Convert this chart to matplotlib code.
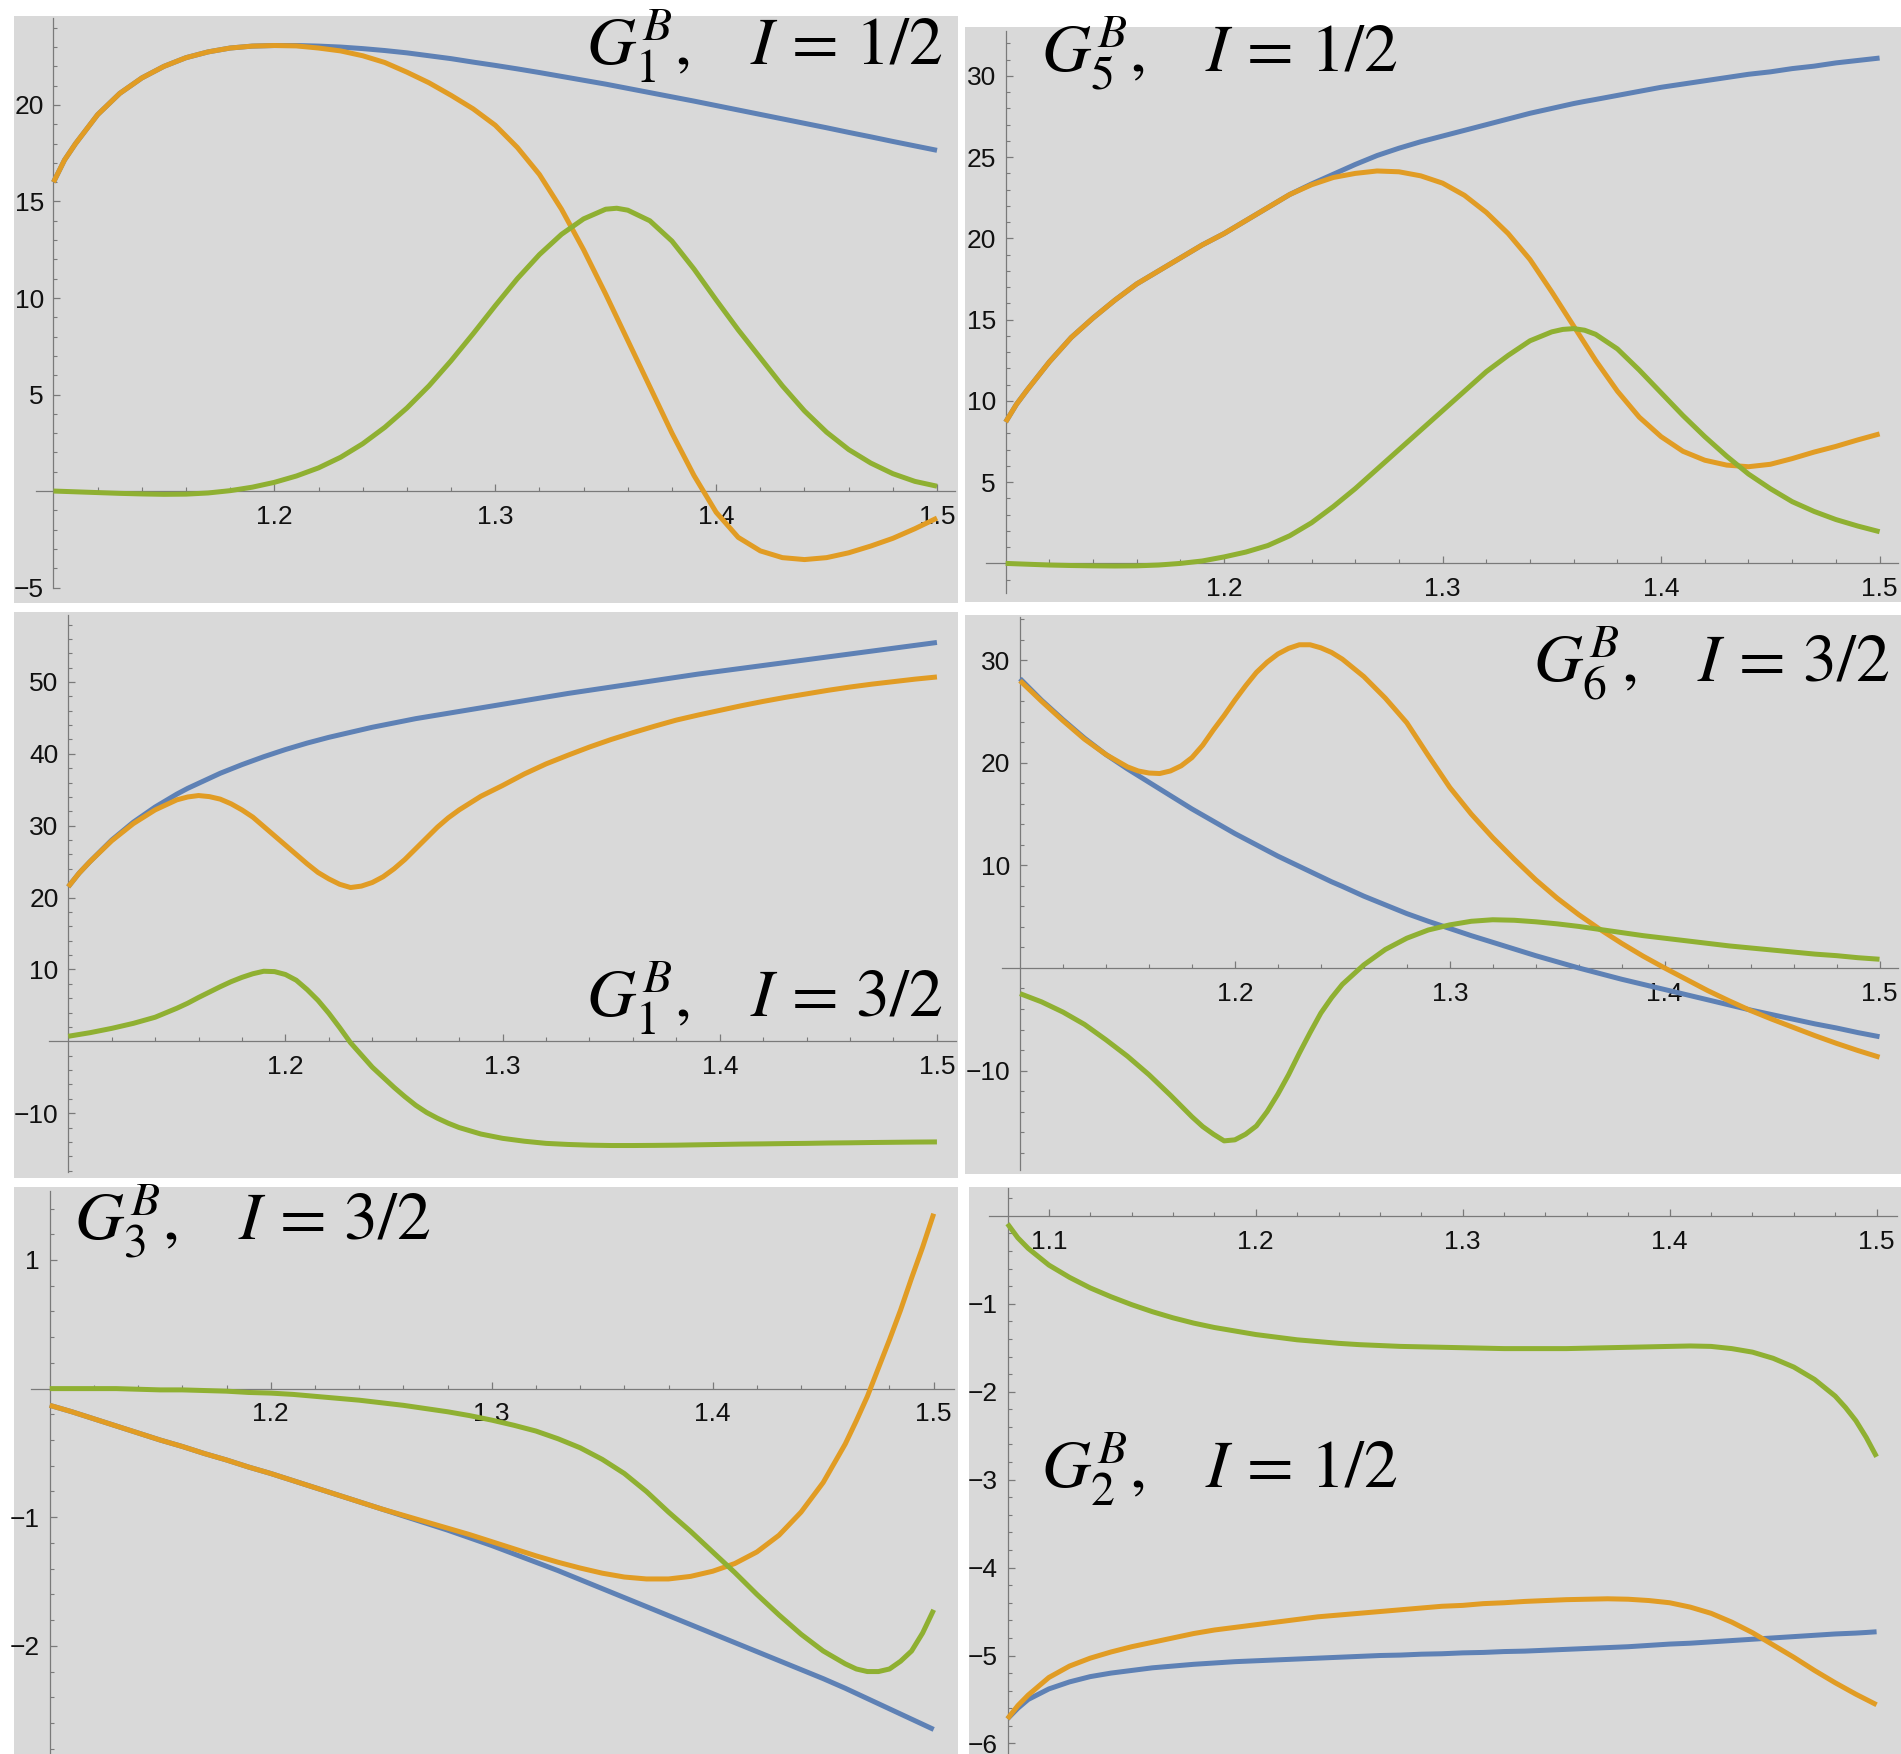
import numpy as np
import matplotlib
matplotlib.use("Agg")
import matplotlib.pyplot as plt

W, H, DPI = 1901, 1754, 100

BLUE = "#5E81B5"
ORANGE = "#E19C24"
GREEN = "#8FB032"
BG = "#d9d9d9"
AXIS = "#7a7a7a"

plt.rcParams["mathtext.fontset"] = "stix"

# energy grids (GeV)
x_main = np.round(np.linspace(1.10, 1.50, 41), 3)
x_g2 = np.round(np.linspace(1.08, 1.50, 43), 3)

# G1^B, I = 1/2
g1_i12_blue = [16.0, 18.0, 19.5, 20.6, 21.4, 22.0, 22.45, 22.75, 22.95, 23.05,
               23.08, 23.08, 23.05, 23.0, 22.92, 22.82, 22.7, 22.55, 22.4, 22.22,
               22.05, 21.87, 21.68, 21.48, 21.28, 21.08, 20.86, 20.64, 20.42, 20.2,
               19.97, 19.74, 19.51, 19.28, 19.05, 18.82, 18.58, 18.35, 18.11, 17.88,
               17.65]
g1_i12_orange = [16.0, 18.0, 19.5, 20.6, 21.4, 22.0, 22.45, 22.75, 22.95, 23.05,
                 23.08, 23.06, 22.95, 22.8, 22.55, 22.2, 21.7, 21.15, 20.5, 19.8,
                 18.95, 17.8, 16.4, 14.6, 12.5, 10.2, 7.8, 5.4, 3.0, 0.8,
                 -1.1, -2.4, -3.1, -3.45, -3.55, -3.45, -3.2, -2.85, -2.45, -1.95,
                 -1.4]
g1_i12_green = [0.0, -0.04, -0.08, -0.12, -0.15, -0.17, -0.16, -0.1, 0.02, 0.2,
                0.45, 0.78, 1.2, 1.75, 2.45, 3.3, 4.3, 5.45, 6.75, 8.15,
                9.6, 11.0, 12.25, 13.3, 14.1, 14.6, 14.55, 14.0, 12.95, 11.5,
                9.9, 8.35, 6.9, 5.45, 4.15, 3.05, 2.15, 1.45, 0.9, 0.5,
                0.25]
g1_i12_xx = [1.105, 1.355]
g1_i12_blue_xx = [17.15, 20.97]
g1_i12_orange_xx = [17.15, 9.0]
g1_i12_green_xx = [-0.02, 14.65]

# G5^B, I = 1/2
g5_i12_blue = [8.7, 10.7, 12.4, 13.9, 15.1, 16.2, 17.2, 18.0, 18.8, 19.6,
               20.3, 21.1, 21.9, 22.7, 23.35, 23.95, 24.55, 25.1, 25.55, 25.95,
               26.3, 26.65, 27.0, 27.35, 27.7, 28.0, 28.3, 28.55, 28.8, 29.05,
               29.3, 29.5, 29.7, 29.9, 30.1, 30.25, 30.45, 30.6, 30.8, 30.95,
               31.1]
g5_i12_orange = [8.7, 10.7, 12.4, 13.9, 15.1, 16.2, 17.2, 18.0, 18.8, 19.6,
                 20.3, 21.1, 21.9, 22.7, 23.3, 23.75, 24.0, 24.15, 24.1, 23.85,
                 23.4, 22.65, 21.6, 20.3, 18.7, 16.7, 14.6, 12.5, 10.6, 9.0,
                 7.8, 6.9, 6.35, 6.05, 5.95, 6.1, 6.45, 6.85, 7.2, 7.6,
                 7.97]
g5_i12_green = [0.0, -0.05, -0.1, -0.13, -0.15, -0.16, -0.15, -0.1, 0.0, 0.15,
                0.4, 0.7, 1.1, 1.7, 2.5, 3.5, 4.6, 5.8, 7.0, 8.2,
                9.4, 10.6, 11.8, 12.8, 13.7, 14.25, 14.45, 14.1, 13.2, 11.9,
                10.5, 9.1, 7.8, 6.6, 5.5, 4.6, 3.8, 3.2, 2.7, 2.3,
                1.95]
g5_i12_xx = [1.105, 1.355, 1.365]
g5_i12_blue_xx = [9.8, 28.15, 28.43]
g5_i12_orange_xx = [9.8, 15.65, 13.55]
g5_i12_green_xx = [-0.025, 14.4, 14.35]

# G1^B, I = 3/2
g1_i32_blue = [21.5, 25.0, 28.0, 30.5, 32.6, 34.4, 35.9, 37.3, 38.5, 39.6,
               40.6, 41.5, 42.3, 43.0, 43.7, 44.3, 44.9, 45.4, 45.9, 46.4,
               46.9, 47.4, 47.9, 48.4, 48.85, 49.3, 49.75, 50.2, 50.65, 51.1,
               51.5, 51.9, 52.3, 52.7, 53.1, 53.5, 53.9, 54.3, 54.7, 55.1,
               55.5]
g1_i32_orange = [21.5, 25.0, 27.9, 30.3, 32.2, 33.6, 34.2, 33.7, 32.2, 29.9,
                 27.3, 24.7, 22.6, 21.4, 22.1, 24.0, 26.8, 29.8, 32.2, 34.1,
                 35.6, 37.2, 38.6, 39.8, 40.95, 42.0, 42.95, 43.85, 44.7, 45.4,
                 46.05, 46.7, 47.3, 47.85, 48.35, 48.85, 49.3, 49.7, 50.05, 50.4,
                 50.7]
g1_i32_green = [0.7, 1.2, 1.8, 2.5, 3.35, 4.6, 6.1, 7.6, 8.9, 9.75,
                9.3, 7.2, 3.9, -0.2, -3.6, -6.4, -8.9, -10.7, -12.0, -12.9,
                -13.5, -13.9, -14.2, -14.35, -14.45, -14.5, -14.5, -14.48, -14.45, -14.4,
                -14.35, -14.3, -14.27, -14.23, -14.2, -14.15, -14.12, -14.08, -14.05, -14.02,
                -14.0]
g1_i32_xx = [1.105, 1.155, 1.165, 1.175, 1.185, 1.195, 1.205, 1.215, 1.225, 1.235,
             1.245, 1.255, 1.265, 1.275]
g1_i32_blue_xx = [23.4, 35.2, 36.6, 37.9, 39.05, 40.1, 41.05, 41.9, 42.65, 43.35,
                  44.0, 44.6, 45.15, 45.65]
g1_i32_orange_xx = [23.4, 34.0, 34.05, 33.05, 31.2, 28.6, 26.0, 23.5, 21.85, 21.6,
                    22.9, 25.3, 28.3, 31.1]
g1_i32_green_xx = [0.95, 5.3, 6.85, 8.3, 9.4, 9.7, 8.5, 5.7, 1.9, -1.9,
                   -5.0, -7.7, -9.9, -11.4]

# G6^B, I = 3/2
g6_i32_blue = [28.2, 26.1, 24.2, 22.4, 20.8, 19.4, 18.1, 16.8, 15.5, 14.3,
               13.1, 12.0, 10.9, 9.9, 8.9, 7.95, 7.0, 6.15, 5.3, 4.55,
               3.85, 3.15, 2.5, 1.85, 1.2, 0.6, 0.0, -0.55, -1.1, -1.6,
               -2.1, -2.6, -3.1, -3.6, -4.1, -4.55, -5.0, -5.45, -5.85, -6.3,
               -6.7]
g6_i32_orange = [28.0, 26.0, 24.1, 22.3, 20.8, 19.6, 19.0, 19.2, 20.5, 23.2,
                 26.1, 28.8, 30.6, 31.5, 31.2, 30.1, 28.4, 26.3, 23.9, 20.7,
                 17.6, 15.0, 12.7, 10.6, 8.6, 6.8, 5.2, 3.75, 2.4, 1.15,
                 0.0, -1.1, -2.2, -3.2, -4.15, -5.0, -5.8, -6.6, -7.35, -8.05,
                 -8.7]
g6_i32_green = [-2.5, -3.3, -4.3, -5.5, -7.0, -8.6, -10.4, -12.4, -14.5, -16.2,
                -16.75, -15.4, -12.3, -8.3, -4.4, -1.6, 0.3, 1.8, 2.9, 3.7,
                4.2, 4.55, 4.7, 4.65, 4.5, 4.3, 4.05, 3.75, 3.45, 3.15,
                2.9, 2.65, 2.4, 2.15, 1.95, 1.75, 1.55, 1.35, 1.2, 1.0,
                0.85]
g6_i32_xx = [1.155, 1.165, 1.175, 1.185, 1.195, 1.205, 1.215, 1.225, 1.235, 1.245]
g6_i32_blue_xx = [18.75, 17.45, 16.15, 14.9, 13.7, 12.55, 11.45, 10.4, 9.4, 8.4]
g6_i32_orange_xx = [19.2, 18.95, 19.7, 21.7, 24.6, 27.5, 29.8, 31.15, 31.5, 30.75]
g6_i32_green_xx = [-9.5, -11.4, -13.45, -15.45, -16.85, -16.2, -14.0, -10.4, -6.3, -2.9]

# G3^B, I = 3/2
g3_i32_blue = [-0.13, -0.18, -0.235, -0.29, -0.345, -0.4, -0.45, -0.505, -0.555, -0.61,
               -0.66, -0.715, -0.77, -0.825, -0.88, -0.935, -0.99, -1.045, -1.1, -1.16,
               -1.22, -1.285, -1.35, -1.415, -1.485, -1.555, -1.625, -1.695, -1.765, -1.835,
               -1.905, -1.975, -2.045, -2.115, -2.185, -2.255, -2.33, -2.41, -2.49, -2.57,
               -2.65]
g3_i32_orange = [-0.13, -0.18, -0.235, -0.29, -0.345, -0.4, -0.45, -0.505, -0.555, -0.61,
                 -0.66, -0.715, -0.77, -0.825, -0.88, -0.935, -0.985, -1.035, -1.085, -1.135,
                 -1.19, -1.245, -1.3, -1.35, -1.395, -1.435, -1.465, -1.48, -1.48, -1.46,
                 -1.42, -1.36, -1.27, -1.14, -0.96, -0.73, -0.43, -0.06, 0.38, 0.86,
                 1.36]
g3_i32_green = [0.0, 0.0, 0.0, 0.0, -0.005, -0.01, -0.01, -0.015, -0.02, -0.03,
                -0.035, -0.045, -0.06, -0.075, -0.09, -0.11, -0.13, -0.155, -0.18, -0.21,
                -0.245, -0.285, -0.33, -0.39, -0.46, -0.55, -0.66, -0.8, -0.96, -1.11,
                -1.27, -1.43, -1.6, -1.76, -1.91, -2.04, -2.14, -2.2, -2.18, -2.04,
                -1.72]
g3_i32_xx = [1.465, 1.475, 1.485, 1.495]
g3_i32_blue_xx = [-2.37, -2.45, -2.53, -2.61]
g3_i32_orange_xx = [-0.25, 0.16, 0.61, 1.1]
g3_i32_green_xx = [-2.18, -2.2, -2.12, -1.9]

# G2^B, I = 1/2 (starts at threshold)
g2_i12_blue = [-5.72, -5.5, -5.38, -5.3, -5.24, -5.2, -5.17, -5.14, -5.12, -5.1,
               -5.085, -5.07, -5.06, -5.05, -5.04, -5.03, -5.02, -5.01, -5.0, -4.995,
               -4.985, -4.98, -4.97, -4.965, -4.955, -4.95, -4.94, -4.93, -4.92, -4.91,
               -4.9, -4.885, -4.87, -4.86, -4.845, -4.83, -4.815, -4.8, -4.785, -4.77,
               -4.755, -4.745, -4.73]
g2_i12_orange = [-5.72, -5.45, -5.25, -5.12, -5.03, -4.96, -4.9, -4.85, -4.8, -4.75,
                 -4.71, -4.68, -4.65, -4.62, -4.59, -4.56, -4.54, -4.52, -4.5, -4.48,
                 -4.46, -4.44, -4.43, -4.41, -4.4, -4.385, -4.375, -4.365, -4.36, -4.355,
                 -4.36, -4.375, -4.4, -4.45, -4.52, -4.62, -4.74, -4.88, -5.02, -5.17,
                 -5.31, -5.44, -5.56]
g2_i12_green = [-0.09, -0.37, -0.56, -0.7, -0.82, -0.92, -1.01, -1.09, -1.16, -1.22,
                -1.27, -1.31, -1.35, -1.38, -1.41, -1.43, -1.45, -1.465, -1.475, -1.485,
                -1.49, -1.495, -1.5, -1.505, -1.51, -1.51, -1.51, -1.51, -1.505, -1.5,
                -1.495, -1.49, -1.485, -1.48, -1.485, -1.51, -1.55, -1.62, -1.72, -1.86,
                -2.05, -2.33, -2.74]
g2_i12_xx = [1.085, 1.485, 1.495]
g2_i12_blue_xx = [-5.6, -4.75, -4.738]
g2_i12_orange_xx = [-5.57, -5.375, -5.5]
g2_i12_green_xx = [-0.25, -2.18, -2.52]

titles = [r"$G_1^B,\quad I\,=\,1/2$", r"$G_5^B,\quad I\,=\,1/2$", r"$G_1^B,\quad I\,=\,3/2$",
          r"$G_6^B,\quad I\,=\,3/2$", r"$G_3^B,\quad I\,=\,3/2$", r"$G_2^B,\quad I\,=\,1/2$"]

# layout of each panel in pixels: gray box (left, top, right, bottom),
# view limits, axis origin, axis extents, ticks and title anchor
panels = [
    dict(box=(13.5, 15.6, 958, 603), xlim=(1.0819, 1.5095), ylim=(-5.80, 24.63),
         x0=1.1, xspan=(1.092, 1.508), yspan=(-5.0, 24.5),
         ymaj=[-5, 5, 10, 15, 20], ymin=(-5, 24.5, 1), xmaj=[1.2, 1.3, 1.4, 1.5],
         title=(943, 65, "right"),
         x=(x_main, g1_i12_xx),
         ys=((g1_i12_blue, g1_i12_blue_xx), (g1_i12_orange, g1_i12_orange_xx),
             (g1_i12_green, g1_i12_green_xx))),
    dict(box=(965, 27, 1901, 602), xlim=(1.0814, 1.5098), ylim=(-2.375, 33.01),
         x0=1.1, xspan=(1.091, 1.5085), yspan=(-1.85, 32.76),
         ymaj=[5, 10, 15, 20, 25, 30], ymin=(-1, 32.5, 1), xmaj=[1.2, 1.3, 1.4, 1.5],
         title=(1041, 72, "left"),
         x=(x_main, g5_i12_xx),
         ys=((g5_i12_blue, g5_i12_blue_xx), (g5_i12_orange, g5_i12_orange_xx),
             (g5_i12_green, g5_i12_green_xx))),
    dict(box=(13.5, 612, 958, 1177.5), xlim=(1.0748, 1.5097), ylim=(-18.95, 59.74),
         x0=1.1, xspan=(1.0912, 1.509), yspan=(-18.2, 59.3),
         ymaj=[-10, 10, 20, 30, 40, 50], ymin=(-18, 59, 2), xmaj=[1.2, 1.3, 1.4, 1.5],
         title=(943, 1017, "right"),
         x=(x_main, g1_i32_xx),
         ys=((g1_i32_blue, g1_i32_blue_xx), (g1_i32_orange, g1_i32_orange_xx),
             (g1_i32_green, g1_i32_green_xx))),
    dict(box=(965, 615, 1901, 1173.7), xlim=(1.0744, 1.51), ylim=(-20.05, 34.4),
         x0=1.1, xspan=(1.0914, 1.5086), yspan=(-19.7, 34.2),
         ymaj=[-10, 10, 20, 30], ymin=(-18, 34.1, 2), xmaj=[1.2, 1.3, 1.4, 1.5],
         title=(1890, 681, "right"),
         x=(x_main, g6_i32_xx),
         ys=((g6_i32_blue, g6_i32_blue_xx), (g6_i32_orange, g6_i32_orange_xx),
             (g6_i32_green, g6_i32_green_xx))),
    dict(box=(13.5, 1186.8, 958, 1754), xlim=(1.0836, 1.511), ylim=(-2.841, 1.569),
         x0=1.1, xspan=(1.0914, 1.5092), yspan=(-2.841, 1.54),
         ymaj=[-2, -1, 1], ymin=(-2.8, 1.5, 0.2), xmaj=[1.2, 1.3, 1.4, 1.5],
         title=(73.5, 1239, "left"),
         x=(x_main, g3_i32_xx),
         ys=((g3_i32_blue, g3_i32_blue_xx), (g3_i32_orange, g3_i32_orange_xx),
             (g3_i32_green, g3_i32_green_xx))),
    dict(box=(969.4, 1186.8, 1901, 1754), xlim=(1.0616, 1.5118), ylim=(-6.12, 0.33),
         x0=1.0801, xspan=(1.0713, 1.5101), yspan=(-6.12, 0.316),
         ymaj=[-6, -5, -4, -3, -2, -1], ymin=(-6, 0.3, 0.2), xmaj=[1.1, 1.2, 1.3, 1.4, 1.5],
         title=(1041, 1488, "left"),
         x=(x_g2, g2_i12_xx),
         ys=((g2_i12_blue, g2_i12_blue_xx), (g2_i12_orange, g2_i12_orange_xx),
             (g2_i12_green, g2_i12_green_xx))),
]


def fmt_num(v):
    s = f"{v:g}"
    return s.replace("-", "\u2212")


def draw_panel(fig, p, title):
    l, t, r, b = p["box"]
    ax = fig.add_axes([l / W, 1 - b / H, (r - l) / W, (b - t) / H])
    ax.set_facecolor(BG)

    # base grid plus the extra samples taken around sharp features
    xs = np.concatenate([p["x"][0], p["x"][1]])
    order = np.argsort(xs)
    for (base, extra), c in zip(p["ys"], (BLUE, ORANGE, GREEN)):
        yv = np.concatenate([base, extra])
        ax.plot(xs[order], yv[order], color=c, lw=3.6, solid_joinstyle="round",
                solid_capstyle="butt", zorder=3)
    ax.set_xlim(*p["xlim"])
    ax.set_ylim(*p["ylim"])

    for s in ("top", "right"):
        ax.spines[s].set_visible(False)
    ax.spines["left"].set_position(("data", p["x0"]))
    ax.spines["bottom"].set_position(("data", 0))
    ax.spines["left"].set_bounds(*p["yspan"])
    ax.spines["bottom"].set_bounds(*p["xspan"])
    for s in ("left", "bottom"):
        ax.spines[s].set_color(AXIS)
        ax.spines[s].set_linewidth(0.9)

    # x ticks every 0.1 with minor ticks every 0.02
    ax.set_xticks(p["xmaj"])
    ax.set_xticklabels([f"{v:.1f}" for v in p["xmaj"]])
    xm = np.round(np.arange(p["x0"], 1.5001, 0.02), 3)
    xm = [v for v in xm if v > p["x0"] + 1e-6 and min(abs(v - m) for m in p["xmaj"]) > 1e-6]
    ax.set_xticks(xm, minor=True)

    ax.set_yticks(p["ymaj"])
    ax.set_yticklabels([fmt_num(v) for v in p["ymaj"]])
    lo, hi, step = p["ymin"]
    ym = np.round(np.arange(lo, hi, step), 3)
    ym = [v for v in ym if abs(v) > 1e-6 and min(abs(v - m) for m in p["ymaj"]) > 1e-6]
    ax.set_yticks(ym, minor=True)

    ax.tick_params(which="major", direction="in", length=5, width=0.9, color=AXIS,
                   labelsize=19, labelcolor="#111111")
    ax.tick_params(axis="x", which="major", pad=10)
    ax.tick_params(axis="y", which="major", pad=7)
    ax.tick_params(which="minor", direction="in", length=3, width=0.8, color=AXIS)
    for lab in ax.get_xticklabels() + ax.get_yticklabels():
        lab.set_family(["Liberation Sans", "DejaVu Sans"])

    tx, ty, ha = p["title"]
    fig.text(tx / W, 1 - ty / H, title, ha=ha, va="baseline", fontsize=49, color="black")
    return ax


fig = plt.figure(figsize=(W / DPI, H / DPI), dpi=DPI)
fig.patch.set_facecolor("white")
for p, title in zip(panels, titles):
    draw_panel(fig, p, title)

fig.savefig("out.png", dpi=DPI)
